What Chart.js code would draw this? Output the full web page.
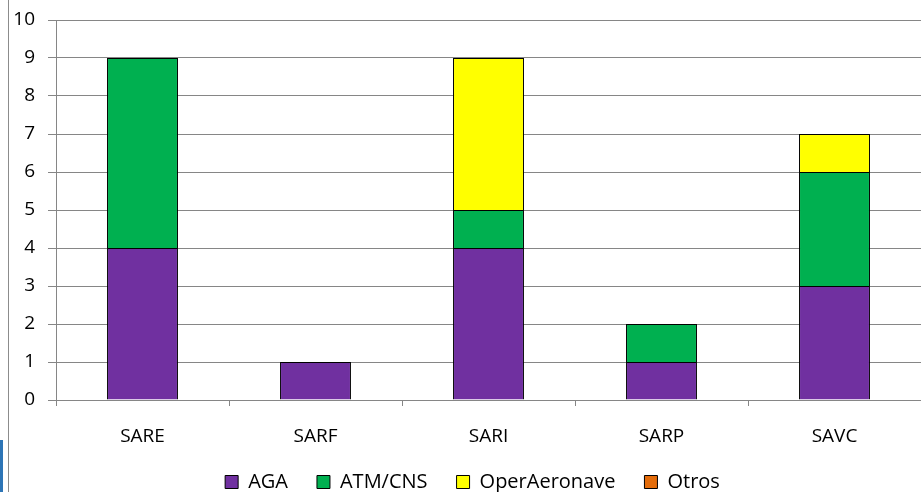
<!DOCTYPE html>
<html>
<head>
<meta charset="utf-8">
<script src="https://cdn.jsdelivr.net/npm/chart.js@4"></script>
<style>
  html, body { margin: 0; padding: 0; background: #fff; }
  #wrap { width: 921px; height: 492px; position: relative; }
</style>
</head>
<body>
<div id="wrap"><canvas id="graph"></canvas></div>
<script>
/* datos */
var categorias = ['SARE', 'SARF', 'SARI', 'SARP', 'SAVC']
var aga = [4, 1, 4, 1, 3]
var atmCns = [5, 0, 1, 1, 3]
var operAeronave = [0, 0, 4, 0, 1]
var otros = [0, 0, 0, 0, 0]

var ctx = document.getElementById('graph').getContext('2d')

// borde izquierdo del marco y posición de la leyenda
var marco = {
  id: 'marco',
  beforeDraw: function (chart) {
    var c = chart.ctx
    c.save()
    c.fillStyle = '#fff'
    c.fillRect(0, 0, chart.width, chart.height)
    c.strokeStyle = '#8c8c8c'
    c.lineWidth = 1
    c.beginPath()
    c.moveTo(8.5, 0)
    c.lineTo(8.5, chart.height)
    c.stroke()
    c.fillStyle = '#2e75b6'
    c.fillRect(0, 440, 3, chart.height - 440)
    c.restore()
    // bajar la leyenda hasta el pie y centrarla como en el original
    var lg = chart.legend
    lg.top = 443
    lg.bottom = chart.height
    lg.left = 24
    lg.right = chart.width
  }
}

function serie(label, data, color) {
  return {
    label: label,
    data: data,
    backgroundColor: color,
    borderColor: '#000',
    borderWidth: 1,
    barPercentage: 0.82,
    categoryPercentage: 0.5
  }
}

var fuente = { family: 'Open Sans', size: 19 }

var config = {
  type: 'bar',
  data: {
    labels: categorias,
    datasets: [
      serie('AGA', aga, '#7030a0'),
      serie('ATM/CNS', atmCns, '#00b050'),
      serie('OperAeronave', operAeronave, '#ffff00'),
      serie('Otros', otros, '#e46c0a')
    ]
  },
  options: {
    responsive: true,
    maintainAspectRatio: false,
    animation: false,
    layout: { padding: { top: 20, right: 0, left: 0, bottom: 0 } },
    scales: {
      x: {
        stacked: true,
        grid: { drawOnChartArea: false, drawTicks: true, tickLength: 6, color: '#868686', offset: true },
        border: { color: '#868686' },
        ticks: { color: '#000', font: fuente, padding: 19 },
        afterFit: function (axis) { axis.height = 52 }
      },
      y: {
        stacked: true,
        min: 0,
        max: 10,
        ticks: { stepSize: 1, color: '#000', font: fuente, padding: 13 },
        grid: { color: '#868686', tickLength: 8 },
        border: { color: '#868686' },
        afterFit: function (axis) {
          axis.width = 56
          axis.paddingTop = 10
        }
      }
    },
    plugins: {
      legend: {
        position: 'bottom',
        maxHeight: 40,
        labels: {
          color: '#000',
          font: { family: 'Open Sans', size: 20 },
          boxWidth: 13,
          boxHeight: 13,
          padding: 29
        }
      },
      tooltip: { enabled: false }
    }
  },
  plugins: [marco]
}
var graph = new Chart(ctx, config)
</script>
</body>
</html>
